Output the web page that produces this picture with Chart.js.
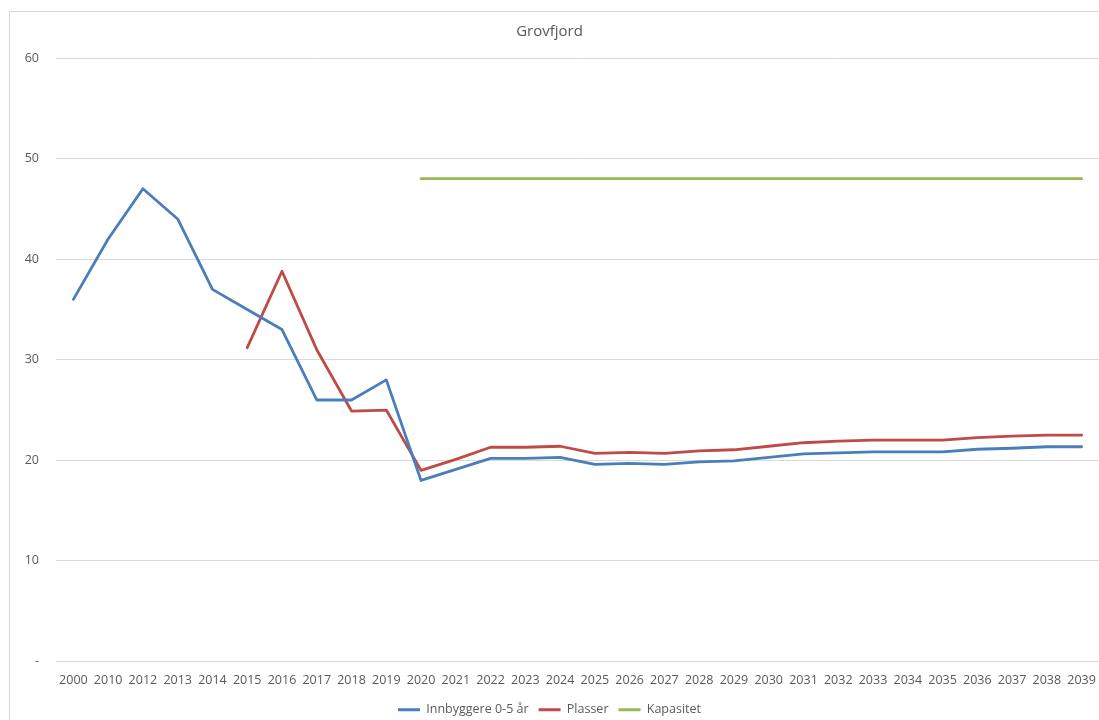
<!DOCTYPE html>
<html><head><meta charset="utf-8">
<script src="https://cdn.jsdelivr.net/npm/chart.js@4/dist/chart.umd.min.js"></script>
<style>html,body{margin:0;padding:0;background:#fff;}#wrap{width:1099px;height:720px;position:relative;}</style>
</head><body><div id="wrap"><canvas id="c" width="1099" height="720"></canvas></div>
<script>
const categories = ['2000','2010','2012','2013','2014','2015','2016','2017','2018','2019','2020','2021','2022','2023','2024','2025','2026','2027','2028','2029','2030','2031','2032','2033','2034','2035','2036','2037','2038','2039'];
const innbyggere = [36,42,47,44,37,35,33,26,26,28,18,19.1,20.2,20.2,20.3,19.6,19.7,19.6,19.85,19.95,20.3,20.65,20.75,20.85,20.85,20.85,21.1,21.2,21.35,21.35];
const plasser = [null,null,null,null,null,31.2,38.8,31,24.9,25,19,20.1,21.3,21.3,21.4,20.7,20.8,20.7,20.95,21.05,21.4,21.75,21.9,22,22,22,22.25,22.4,22.5,22.5];
const kapasitet = [null,null,null,null,null,null,null,null,null,null,48,48,48,48,48,48,48,48,48,48,48,48,48,48,48,48,48,48,48,48];
const seriesNames = ['Innbyggere 0-5 år','Plasser','Kapasitet'];
const titleText = 'Grovfjord';

const FONT = "'Open Sans', 'Noto Sans', sans-serif";
const TXT = '#595959';

const borderPlugin = {
  id: 'outerBorder',
  beforeDraw(chart) {
    const ctx = chart.ctx;
    ctx.save();
    ctx.strokeStyle = '#d9d9d9';
    ctx.lineWidth = 1;
    ctx.strokeRect(9.5, 11.5, 1200, 800);
    ctx.restore();
  }
};

new Chart(document.getElementById('c'), {
  type: 'line',
  data: {
    labels: categories,
    datasets: [
      {label: seriesNames[0], data: innbyggere, borderColor: '#4a7ebb', backgroundColor: '#4a7ebb'},
      {label: seriesNames[1], data: plasser, borderColor: '#be4b48', backgroundColor: '#be4b48'},
      {label: seriesNames[2], data: kapasitet, borderColor: '#98b954', backgroundColor: '#98b954'}
    ]
  },
  options: {
    responsive: false,
    animation: false,
    devicePixelRatio: 1,
    layout: {padding: {left: 0, right: 0, top: 0, bottom: -6}},
    elements: {
      line: {borderWidth: 2.8, tension: 0, borderCapStyle: 'round', borderJoinStyle: 'round'},
      point: {radius: 0, hoverRadius: 0}
    },
    plugins: {
      title: {display: true, text: titleText, color: TXT, font: {family: FONT, size: 15, weight: 'normal'}, padding: {top: 23, bottom: 17}},
      legend: {
        position: 'bottom',
        labels: {
          color: TXT, font: {family: FONT, size: 12.5}, boxWidth: 22, boxHeight: 3, padding: 10,
          generateLabels(chart) {
            const items = Chart.defaults.plugins.legend.labels.generateLabels(chart);
            items.forEach(it => { it.lineWidth = 0; it.fillStyle = it.strokeStyle; });
            return items;
          }
        }
      },
      tooltip: {enabled: false}
    },
    scales: {
      x: {
        offset: true,
        afterFit(scale) { scale.paddingLeft = 0; scale.paddingRight = 0; scale.height = 32; },
        grid: {display: false, drawTicks: false},
        border: {display: true, color: '#d9d9d9', width: 1},
        ticks: {color: TXT, font: {family: FONT, size: 12.5}, padding: 11, maxRotation: 0, autoSkip: false}
      },
      y: {
        min: 0, max: 60,
        afterFit(scale) { scale.width = 56; },
        grid: {color: '#d9d9d9', drawTicks: false},
        border: {display: false},
        ticks: {stepSize: 10, color: TXT, font: {family: FONT, size: 12.5}, padding: 17,
          callback: v => v === 0 ? '-' : String(v)}
      }
    }
  },
  plugins: [borderPlugin]
});
</script></body></html>
